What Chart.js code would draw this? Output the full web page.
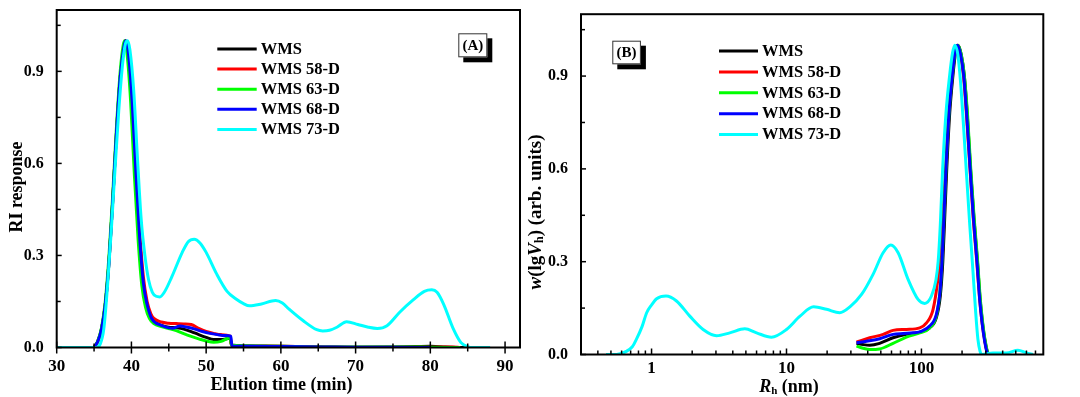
<!DOCTYPE html>
<html><head><meta charset="utf-8">
<script src="https://cdn.jsdelivr.net/npm/chart.js@4/dist/chart.umd.min.js"></script>
<style>
html,body{margin:0;padding:0;background:#fff;}
#wrap{position:relative;width:1080px;height:397px;overflow:hidden;background:#fff;}
canvas{position:absolute;top:0;}
</style></head><body>
<div id="wrap">
<canvas id="cA" width="525" height="397" style="left:0px"></canvas>
<canvas id="cB" width="555" height="397" style="left:525px"></canvas>
</div>
<script>
// ---------- shared ----------
const seriesNames  = ['WMS', 'WMS 58-D', 'WMS 63-D', 'WMS 68-D', 'WMS 73-D'];
const seriesColors = ['#000000', '#ff0000', '#00ff00', '#0000ff', '#00ffff'];

// ---------- Panel A : RI response vs elution time ----------
const tWMS  = [30,34.8,35.5,36,36.5,37,37.5,38,38.5,39,39.2,39.5,40,40.5,41,41.5,42,42.5,43,44,45,46,47,48,49,50,51,52,53.2,53.4,55,58,62,66,70,75,78,80,82,84,86];
const riWMS = [0,0,0.02,0.06,0.14,0.28,0.48,0.7,0.88,0.98,1.0,0.97,0.82,0.58,0.36,0.21,0.14,0.1,0.085,0.072,0.066,0.064,0.06,0.052,0.042,0.033,0.026,0.026,0.03,0.008,0.006,0.005,0.003,0.002,0.001,0.002,0.003,0.004,0.002,0,0];

const t58  = [30,34.8,35.5,36,36.5,37,37.5,38,38.5,39,39.25,39.6,40.1,40.6,41.1,41.6,42.1,42.6,43,44,45,46,47,48,49,50,51,52,53.2,53.4,56,60,65,70,80,83,84];
const ri58 = [0,0,0.02,0.06,0.14,0.28,0.48,0.7,0.88,0.98,1.0,0.97,0.83,0.6,0.38,0.23,0.15,0.11,0.095,0.083,0.079,0.078,0.077,0.075,0.062,0.052,0.046,0.042,0.037,0.006,0.004,0.004,0.002,0.001,0.001,0.002,0];

const t63  = [30,34.8,35.5,36,36.5,37,37.5,38,38.5,38.9,39.1,39.4,39.9,40.4,40.9,41.4,41.9,42.4,43,44,45,46,47,48,49,50,51,52,53.2,53.4,56,60,65,75,80,84];
const ri63 = [0,0,0.022,0.065,0.15,0.3,0.5,0.72,0.9,0.985,1.0,0.96,0.8,0.56,0.35,0.2,0.13,0.095,0.078,0.068,0.062,0.055,0.045,0.036,0.028,0.021,0.017,0.02,0.032,0.007,0.005,0.004,0.002,0.002,0.001,0];

const t68  = [30,34.8,35.5,36,36.5,37,37.5,38,38.5,39,39.2,39.6,40.1,40.6,41.1,41.6,42.1,42.6,43,44,45,45.5,46.5,47.5,48.5,49.5,50.5,51.5,52.5,53.3,53.45,56,60,65,70,75,80];
const ri68 = [0,0,0.02,0.06,0.14,0.28,0.48,0.7,0.88,0.98,1.0,0.96,0.8,0.57,0.36,0.21,0.14,0.1,0.085,0.072,0.064,0.063,0.07,0.066,0.06,0.052,0.046,0.042,0.039,0.037,0.005,0.004,0.003,0.002,0.001,0.001,0];

const t73  = [30,35.3,35.8,36.3,36.8,37.3,37.8,38.3,38.8,39.2,39.5,39.8,40.3,40.8,41.3,41.8,42.3,42.8,43.3,43.8,44.4,45.4,46.8,47.6,48.4,49.2,50.0,51.4,52.8,54.0,55.0,55.8,57.4,59.3,60.2,61.1,63,64.8,65.6,66.5,67.5,68.8,70.3,71.7,72.9,74.2,75.9,77.7,79.2,80.2,80.9,81.8,83.0,84.1,85.1,85.5,88];
const ri73 = [0,0,0.01,0.06,0.2,0.38,0.58,0.77,0.92,0.99,1.0,0.97,0.84,0.62,0.42,0.3,0.22,0.18,0.167,0.165,0.18,0.23,0.31,0.345,0.353,0.34,0.31,0.24,0.183,0.158,0.143,0.136,0.142,0.153,0.145,0.125,0.087,0.058,0.054,0.056,0.066,0.084,0.075,0.066,0.062,0.071,0.115,0.155,0.183,0.188,0.18,0.14,0.065,0.016,0.002,0,0];

const xMajorA = [30,40,50,60,70,80,90];
const xMinorA = [35,45,55,65,75,85];
const yMajor  = [0,0.3,0.6,0.9];
const yMinor  = [0.15,0.45,0.75,1.05];
const yLabels = ['0.0','0.3','0.6','0.9'];

// ---------- Panel B : w(lgVh) vs Rh ----------
const rhWMS = [33,37,41.4,49,61.6,77.4,97.2,115,129,138,144,149,154,162,171,179,187,197,208,219,231,245,260,272,284,297,310,322];
const wWMS  = [0.036,0.032,0.03,0.036,0.054,0.065,0.072,0.086,0.119,0.19,0.3,0.45,0.6,0.78,0.9,0.975,1.0,0.97,0.9,0.77,0.6,0.44,0.3,0.18,0.1,0.04,0.005,0];

const rh58 = [33,41.4,52,61.6,77.4,97.2,109,122,132,138,145,151,159,168,176,184,194,205,216,229,242,257,270,282,296,308,320];
const w58  = [0.04,0.054,0.065,0.078,0.081,0.086,0.102,0.146,0.24,0.33,0.47,0.6,0.78,0.9,0.975,1.0,0.97,0.9,0.77,0.6,0.44,0.3,0.18,0.1,0.04,0.005,0];

const rh63 = [33,37,41.4,49,61.6,77.4,97.2,115,129,137,142,147,152,160,169,177,186,197,208,220,232,246,261,273,285,298,311,323];
const w63  = [0.027,0.02,0.016,0.018,0.036,0.056,0.07,0.086,0.125,0.2,0.3,0.45,0.6,0.78,0.9,0.975,1.0,0.97,0.9,0.77,0.6,0.44,0.3,0.18,0.1,0.04,0.005,0];

const rh68 = [33,39.2,49.1,61.6,73.1,86.7,100,115,129,137,142,147,152,160,169,177,185,195,206,217,229.6,243,258,270,282,295,308,320];
const w68  = [0.038,0.043,0.051,0.065,0.068,0.07,0.075,0.092,0.13,0.2,0.3,0.45,0.6,0.78,0.9,0.975,1.0,0.97,0.9,0.77,0.6,0.44,0.3,0.18,0.1,0.04,0.005,0];

const rh73 = [0.46,0.55,0.65,0.72,0.77,0.85,0.92,1.0,1.09,1.28,1.53,1.92,2.41,3.03,3.8,4.91,6.0,7.74,10,12.6,15.9,19.8,24.8,29.5,36,43.8,52,59.3,67.2,79.6,94.4,105.8,118.6,128,133,138,143.6,152,161.6,170,177,186,195,205,216,228,240,252,262,272,280,339,426,519,600,671];
const w73  = [0,0,0.01,0.025,0.048,0.09,0.135,0.16,0.18,0.189,0.173,0.124,0.081,0.061,0.07,0.083,0.07,0.056,0.081,0.124,0.154,0.146,0.135,0.154,0.194,0.259,0.329,0.354,0.329,0.243,0.178,0.165,0.189,0.24,0.3,0.42,0.6,0.78,0.9,0.975,1.0,0.97,0.88,0.74,0.58,0.42,0.28,0.14,0.05,0.01,0,0.005,0.005,0.014,0.005,0];

const xMajorB = [1,10,100];
const xLabelsB = ['1','10','100'];
const xMinorB = [0.4,0.5,0.6,0.7,0.8,0.9,2,3,4,5,6,7,8,9,20,30,40,50,60,70,80,90,200,300,400,500,600,700];

// ---------- helpers ----------
const SERIF = '"Liberation Serif","Times New Roman",serif';
function pts(xs, ys){ return xs.map((x,i)=>({x:x, y:ys[i]})); }
function makeDatasets(pairs){
  // order: lower value drawn on top -> cyan on top
  return pairs.map((p,i)=>({
    label: seriesNames[i], data: pts(p[0],p[1]),
    borderColor: seriesColors[i], backgroundColor: seriesColors[i],
    borderWidth: 3, pointRadius: 0, fill: false,
    cubicInterpolationMode: 'monotone', order: 4 - i
  }));
}
function drawRich(ctx, parts, cx, cy, rot){
  ctx.save();
  ctx.translate(cx, cy);
  if (rot) ctx.rotate(rot);
  let total = 0;
  parts.forEach(p=>{ ctx.font = p.f; p.w = ctx.measureText(p.t).width; total += p.w; });
  let x = -total/2;
  ctx.fillStyle = '#000';
  ctx.textBaseline = 'middle';
  ctx.textAlign = 'left';
  parts.forEach(p=>{ ctx.font = p.f; ctx.fillText(p.t, x, p.dy||0); x += p.w; });
  ctx.restore();
}
function seg(ctx,x1,y1,x2,y2){ ctx.beginPath(); ctx.moveTo(x1,y1); ctx.lineTo(x2,y2); ctx.stroke(); }

function panelPlugin(cfg){
  return {
    id: 'panelDecor',
    afterDatasetsDraw(chart){
      const ctx = chart.ctx, a = chart.chartArea, xs = chart.scales.x, ys = chart.scales.y;
      ctx.save();
      ctx.strokeStyle = '#000';
      ctx.lineWidth = 1.5;
      // x ticks
      cfg.xMajor.forEach(v=>{ const x = xs.getPixelForValue(v); seg(ctx,x,a.bottom-cfg.xMajIn,x,a.bottom+cfg.xMajOut); });
      cfg.xMinor.forEach(v=>{ const x = xs.getPixelForValue(v); seg(ctx,x,a.bottom-cfg.xMinIn,x,a.bottom+cfg.xMinOut); });
      // y ticks (inward)
      yMajor.forEach(v=>{ const y = ys.getPixelForValue(v); seg(ctx,a.left,y,a.left+5,y); });
      yMinor.forEach(v=>{ const y = ys.getPixelForValue(v); seg(ctx,a.left,y,a.left+4,y); });
      // frame
      ctx.lineWidth = 2;
      ctx.strokeRect(a.left, a.top, a.right-a.left, a.bottom-a.top);
      // tick labels
      ctx.fillStyle = '#000';
      ctx.font = 'bold 17px ' + SERIF;
      ctx.textAlign = 'center'; ctx.textBaseline = 'middle';
      cfg.xMajor.forEach((v,i)=>{ ctx.fillText(cfg.xLabels[i], xs.getPixelForValue(v), a.bottom + cfg.xLabelDy); });
      ctx.font = 'bold 16px ' + SERIF;
      ctx.textAlign = 'right';
      yMajor.forEach((v,i)=>{ ctx.fillText(yLabels[i], a.left - cfg.yLabelDx, ys.getPixelForValue(v)); });
      // legend
      ctx.font = 'bold 16.5px ' + SERIF;
      ctx.textAlign = 'left';
      chart.data.datasets.forEach((ds,i)=>{
        const y = cfg.legY + i*cfg.legDy;
        ctx.strokeStyle = ds.borderColor; ctx.lineWidth = 3;
        seg(ctx, cfg.legX1, y, cfg.legX2, y);
        ctx.fillStyle = '#000';
        ctx.fillText(ds.label, cfg.legX2 + 4, y + 0.5);
      });
      // panel tag box with shadow
      const b = cfg.box;
      ctx.fillStyle = '#000';
      ctx.fillRect(b.x + b.sh, b.y + b.sh, b.w, b.h);
      ctx.fillStyle = '#fff';
      ctx.fillRect(b.x, b.y, b.w, b.h);
      ctx.strokeStyle = '#333'; ctx.lineWidth = 1;
      ctx.strokeRect(b.x + 0.5, b.y + 0.5, b.w - 1, b.h - 1);
      ctx.fillStyle = '#000';
      ctx.font = 'bold 15px ' + SERIF;
      ctx.textAlign = 'center';
      ctx.fillText(b.t, b.x + b.w/2, b.y + b.h/2 + 0.5);
      // titles
      cfg.titles(ctx);
      ctx.restore();
    }
  };
}

function baseOptions(pad, xScale){
  return {
    responsive: false, animation: false, devicePixelRatio: 1,
    layout: { padding: pad },
    plugins: { legend: { display: false }, tooltip: { enabled: false } },
    scales: { x: xScale, y: { type: 'linear', min: 0, max: 1.1, display: false } },
    elements: { point: { radius: 0 } }
  };
}

// ---------- Chart A ----------
new Chart(document.getElementById('cA'), {
  type: 'line',
  data: { datasets: makeDatasets([[tWMS,riWMS],[t58,ri58],[t63,ri63],[t68,ri68],[t73,ri73]]) },
  options: baseOptions({ left: 56.7, right: 5, top: 10, bottom: 49.5 },
                       { type: 'linear', min: 30, max: 92, display: false }),
  plugins: [panelPlugin({
    xMajor: xMajorA, xMinor: xMinorA, xLabels: xMajorA.map(String),
    xMajIn: 6, xMajOut: 6, xMinIn: 4, xMinOut: 4, xLabelDy: 19, yLabelDx: 13,
    legX1: 217.3, legX2: 256.7, legY: 49, legDy: 20.1,
    box: { x: 458.3, y: 33.3, w: 29, h: 24, sh: 5, t: '(A)' },
    titles(ctx){
      drawRich(ctx, [{ t: 'Elution time (min)', f: 'bold 18px ' + SERIF }], 281.5, 385, 0);
      drawRich(ctx, [{ t: 'RI response', f: 'bold 18px ' + SERIF }], 17, 187, -Math.PI/2);
    }
  })]
});

// ---------- Chart B ----------
new Chart(document.getElementById('cB'), {
  type: 'line',
  data: { datasets: makeDatasets([[rhWMS,wWMS],[rh58,w58],[rh63,w63],[rh68,w68],[rh73,w73]]) },
  options: baseOptions({ left: 56, right: 36.7, top: 14.2, bottom: 42.5 },
                       { type: 'logarithmic', min: 0.3, max: 800, display: false }),
  plugins: [panelPlugin({
    xMajor: xMajorB, xMinor: xMinorB, xLabels: xLabelsB,
    xMajIn: 6, xMajOut: 0, xMinIn: 4, xMinOut: 0, xLabelDy: 14, yLabelDx: 13,
    legX1: 194, legX2: 233, legY: 51, legDy: 20.9,
    box: { x: 87.3, y: 40.7, w: 28.6, h: 23.6, sh: 5, t: '(B)' },
    titles(ctx){
      drawRich(ctx, [
        { t: 'R', f: 'italic bold 18px ' + SERIF },
        { t: 'h', f: 'bold 11px ' + SERIF, dy: 4 },
        { t: ' (nm)', f: 'bold 18px ' + SERIF }
      ], 264, 387, 0);
      drawRich(ctx, [
        { t: 'w', f: 'italic bold 19px ' + SERIF },
        { t: '(lg', f: 'bold 19px ' + SERIF },
        { t: 'V', f: 'italic bold 19px ' + SERIF },
        { t: 'h', f: 'bold 12px ' + SERIF, dy: 4 },
        { t: ') (arb. units)', f: 'bold 19px ' + SERIF }
      ], 11, 212, -Math.PI/2);
    }
  })]
});
</script>
</body></html>
